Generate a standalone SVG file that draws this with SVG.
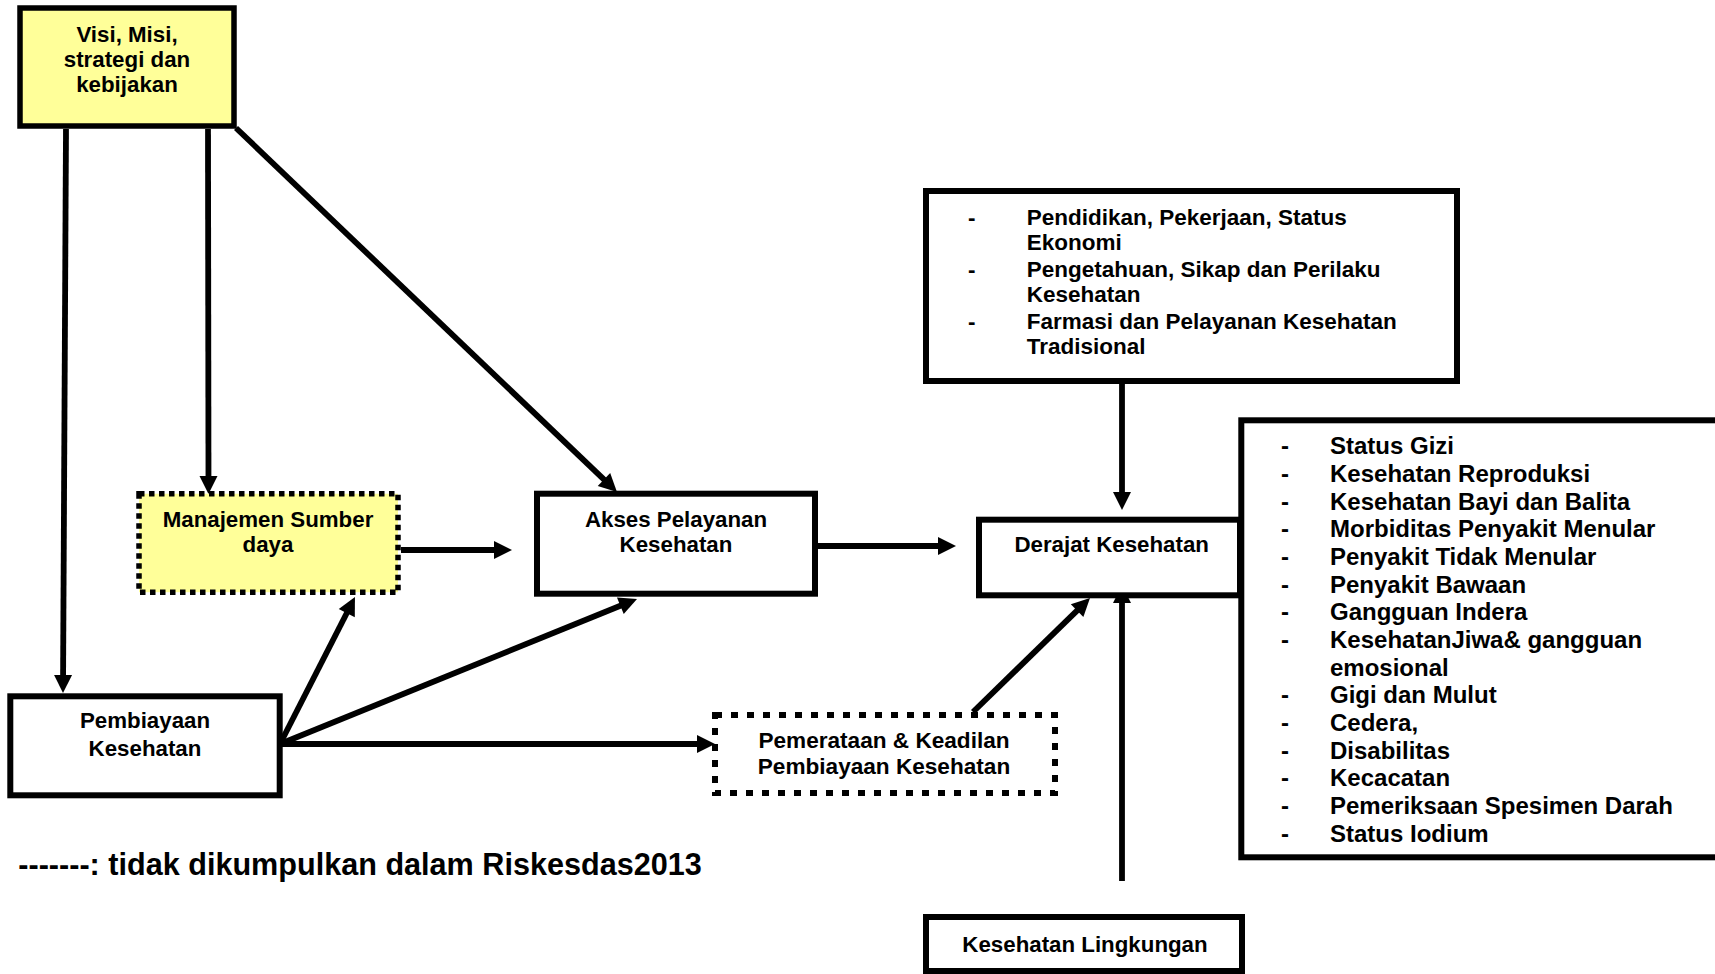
<svg xmlns="http://www.w3.org/2000/svg" width="1715" height="974" viewBox="0 0 1715 974">
<style>
text{font-family:"Liberation Sans",Arial,Helvetica,sans-serif;font-weight:bold;fill:#000}
.c{text-anchor:middle;font-size:22.3px}
.l{font-size:22.5px}
.r{font-size:24px}
.box{fill:#fff;stroke:#000;stroke-width:6}
.yel{fill:#FFFF99;stroke:#000;stroke-width:5.5}
.dot1{fill:#FFFF99;stroke:#000;stroke-width:5.5;stroke-dasharray:5.5 4.5}
.dot2{fill:#fff;stroke:#000;stroke-width:6;stroke-dasharray:7 9}
.con{stroke:#000;stroke-width:5.8;fill:none;marker-end:url(#ah)}
</style>
<defs>
<marker id="ah" markerUnits="userSpaceOnUse" markerWidth="18" markerHeight="18" refX="6" refY="9" orient="auto" overflow="visible">
<path d="M0,0 L18,9 L0,18 z" fill="#000"/>
</marker>
</defs>
<rect width="1715" height="974" fill="#fff"/>

<g id="connectors">
<line class="con" x1="66" y1="129" x2="63.06" y2="681"/>
<line class="con" x1="208" y1="129" x2="208.5" y2="482"/>
<line class="con" x1="236" y1="128" x2="608.3" y2="483.7"/>
<line class="con" x1="401" y1="550" x2="500" y2="550"/>
<line class="con" x1="818" y1="546" x2="944" y2="546"/>
<line class="con" x1="1122" y1="384" x2="1122" y2="498"/>
<line class="con" x1="1122" y1="881" x2="1122" y2="597"/>
<line class="con" x1="973" y1="712" x2="1081.4" y2="606.4"/>
<line class="con" x1="280" y1="744" x2="349.5" y2="607.7"/>
<line class="con" x1="280" y1="744" x2="625.9" y2="603.5"/>
<line class="con" x1="280" y1="744" x2="703" y2="744"/>
</g>

<g id="visi">
<rect class="yel" x="20" y="8" width="214" height="118"/>
<text class="c" x="127" y="41.7">Visi, Misi,</text>
<text class="c" x="127" y="66.7">strategi dan</text>
<text class="c" x="127" y="91.7">kebijakan</text>
</g>

<g id="manajemen">
<rect class="dot1" x="139" y="493.7" width="259" height="98.5"/>
<text class="c" x="268" y="526.7">Manajemen Sumber</text>
<text class="c" x="268" y="551.7">daya</text>
</g>

<g id="akses">
<rect class="box" x="537" y="493.7" width="278" height="100"/>
<text class="c" x="676" y="526.7">Akses Pelayanan</text>
<text class="c" x="676" y="551.7">Kesehatan</text>
</g>

<g id="pembiayaan">
<rect class="box" x="10.3" y="696.3" width="269.4" height="99"/>
<text class="c" x="145" y="728.3">Pembiayaan</text>
<text class="c" x="145" y="755.7">Kesehatan</text>
</g>

<g id="pemerataan">
<rect class="dot2" x="715" y="715" width="340" height="78"/>
<text class="c" x="884" y="748.3" style="font-size:22.6px">Pemerataan &amp; Keadilan</text>
<text class="c" x="884" y="774.3" style="font-size:22.6px">Pembiayaan Kesehatan</text>
</g>

<g id="faktor">
<rect class="box" x="926" y="191" width="531" height="190"/>
<text class="l" x="968" y="225">-</text>
<text class="l" x="1026.7" y="225">Pendidikan, Pekerjaan, Status</text>
<text class="l" x="1026.7" y="250">Ekonomi</text>
<text class="l" x="968" y="276.7">-</text>
<text class="l" x="1026.7" y="276.7">Pengetahuan, Sikap dan Perilaku</text>
<text class="l" x="1026.7" y="302.3">Kesehatan</text>
<text class="l" x="968" y="329">-</text>
<text class="l" x="1026.7" y="329">Farmasi dan Pelayanan Kesehatan</text>
<text class="l" x="1026.7" y="354.3">Tradisional</text>
</g>

<g id="indikator">
<rect class="box" x="1241.3" y="420.3" width="520" height="437"/>
<text class="r" x="1281" y="454.3">-</text><text class="r" x="1330" y="454.3">Status Gizi</text>
<text class="r" x="1281" y="482">-</text><text class="r" x="1330" y="482">Kesehatan Reproduksi</text>
<text class="r" x="1281" y="509.6">-</text><text class="r" x="1330" y="509.6">Kesehatan Bayi dan Balita</text>
<text class="r" x="1281" y="537.3">-</text><text class="r" x="1330" y="537.3">Morbiditas Penyakit Menular</text>
<text class="r" x="1281" y="565">-</text><text class="r" x="1330" y="565">Penyakit Tidak Menular</text>
<text class="r" x="1281" y="592.6">-</text><text class="r" x="1330" y="592.6">Penyakit Bawaan</text>
<text class="r" x="1281" y="620.3">-</text><text class="r" x="1330" y="620.3">Gangguan Indera</text>
<text class="r" x="1281" y="648">-</text><text class="r" x="1330" y="648">KesehatanJiwa&amp; gangguan</text>
<text class="r" x="1330" y="675.7">emosional</text>
<text class="r" x="1281" y="703.3">-</text><text class="r" x="1330" y="703.3">Gigi dan Mulut</text>
<text class="r" x="1281" y="731">-</text><text class="r" x="1330" y="731">Cedera,</text>
<text class="r" x="1281" y="758.7">-</text><text class="r" x="1330" y="758.7">Disabilitas</text>
<text class="r" x="1281" y="786.3">-</text><text class="r" x="1330" y="786.3">Kecacatan</text>
<text class="r" x="1281" y="814">-</text><text class="r" x="1330" y="814">Pemeriksaan Spesimen Darah</text>
<text class="r" x="1281" y="841.7">-</text><text class="r" x="1330" y="841.7">Status Iodium</text>
</g>

<g id="derajat">
<rect class="box" x="979" y="519.7" width="261" height="75.6"/>
<text class="c" x="1111.7" y="552.3">Derajat Kesehatan</text>
</g>

<g id="lingkungan">
<rect class="box" x="926" y="917" width="316" height="54"/>
<text class="c" x="1085" y="951.7">Kesehatan Lingkungan</text>
</g>

<g id="legend">
<text x="18.3" y="875" style="font-size:30.6px">-------: tidak dikumpulkan dalam Riskesdas2013</text>
</g>
</svg>
